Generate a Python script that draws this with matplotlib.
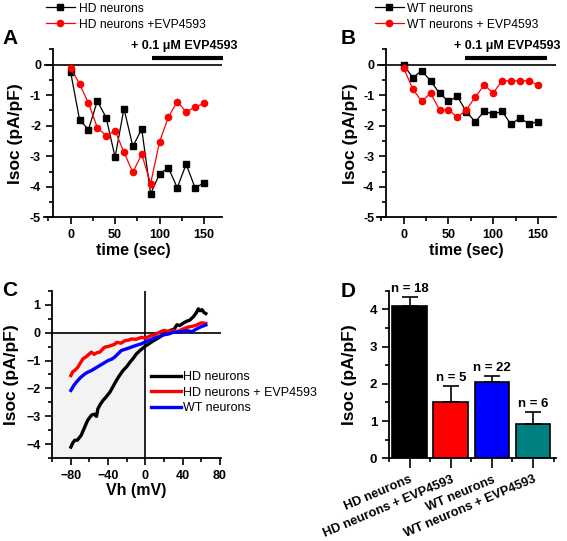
import numpy as np
import matplotlib
matplotlib.use("Agg")
import matplotlib.pyplot as plt
from matplotlib.ticker import MultipleLocator

plt.rcParams['font.family'] = ['Liberation Sans', 'DejaVu Sans']

# ---------------- data ----------------
time_s = [0, 10, 20, 30, 40, 50, 60, 70, 80, 90, 100, 110, 120, 130, 140, 150]

# Panel A
hd_ctrl = [-0.25, -1.80, -2.13, -1.19, -1.74, -3.03, -1.44, -2.68, -2.11, -4.23,
           -3.58, -3.38, -4.03, -3.26, -4.03, -3.88]
hd_evp = [-0.11, -0.63, -1.26, -2.06, -2.33, -2.17, -2.87, -3.53, -2.93, -3.90,
          -2.53, -1.72, -1.21, -1.55, -1.39, -1.27]

# Panel B
wt_ctrl = [-0.01, -0.43, -0.20, -0.53, -0.94, -1.20, -1.04, -1.55, -1.87, -1.53,
           -1.62, -1.53, -1.96, -1.74, -1.94, -1.87]
wt_evp = [-0.12, -0.80, -1.20, -0.94, -1.48, -1.48, -1.73, -1.48, -1.06, -0.67,
          -0.93, -0.53, -0.53, -0.53, -0.53, -0.67]

# Panel C (I-V traces)
vh_hd = [-80, -78, -76, -73, -69, -66, -62, -58, -55, -52.5, -51, -48, -45.5, -42, -38,
         -35, -31, -28, -24, -20, -16.5, -13, -9.5, -5, -0.5, 3, 7, 11, 15, 19, 23,
         27, 31, 34, 37, 40, 44, 48, 52, 55, 57, 59, 61, 63, 65]
iv_hd = [-4.10, -3.95, -3.86, -3.85, -3.68, -3.45, -3.14, -2.96, -2.92, -3.00, -2.73,
         -2.55, -2.43, -2.30, -2.13, -1.95, -1.71, -1.55, -1.36, -1.22, -1.06, -0.92,
         -0.76, -0.62, -0.50, -0.42, -0.33, -0.25, -0.17, -0.08, 0.00, 0.08, 0.12,
         0.28, 0.25, 0.32, 0.40, 0.45, 0.58, 0.72, 0.85, 0.78, 0.82, 0.72, 0.68]
vh_hdevp = [-80, -78, -76, -72.5, -70, -67, -63, -58, -55, -52, -49, -46, -43.7, -40,
            -36.5, -33, -31, -26, -22, -18, -15, -10, -4, 0, 5, 10, 15, 20, 25, 30,
            35, 40, 45, 50, 55, 60, 65]
iv_hdevp = [-1.54, -1.40, -1.36, -1.24, -1.10, -0.94, -0.85, -0.70, -0.78, -0.72,
            -0.70, -0.60, -0.52, -0.50, -0.46, -0.42, -0.35, -0.38, -0.29, -0.27,
            -0.23, -0.24, -0.17, -0.20, -0.12, -0.08, 0.01, 0.08, 0.04, 0.07, 0.04,
            0.12, 0.19, 0.22, 0.27, 0.35, 0.33]
vh_wt = [-80, -77, -74, -70, -65, -62, -58, -54, -49, -45, -40, -36, -33, -29, -25.7,
         -20, -15, -10, -4, 0, 5, 10, 15, 20, 25, 30, 35, 40, 45, 50, 55, 60, 65]
iv_wt = [-2.07, -1.90, -1.77, -1.62, -1.48, -1.42, -1.36, -1.28, -1.18, -1.10,
         -1.00, -0.95, -0.88, -0.75, -0.64, -0.58, -0.52, -0.46, -0.40, -0.33,
         -0.26, -0.20, -0.14, -0.08, -0.05, 0.01, 0.02, 0.04, 0.07, 0.03, 0.13,
         0.21, 0.27]

# Panel D
groups = ["HD neurons", "HD neurons + EVP4593", "WT neurons", "WT neurons + EVP4593"]
means = [4.10, 1.50, 2.05, 0.92]
sems = [0.24, 0.45, 0.16, 0.33]
n_cells = [18, 5, 22, 6]
bar_colors = ["#000000", "#ff0000", "#0000ff", "#008080"]

# ---------------- figure ----------------
fig = plt.figure(figsize=(5.67, 5.41), dpi=100)

TICK_FS = 9
LAB_FS = 11.5


def style_axis(ax):
    for s in ["top", "right"]:
        ax.spines[s].set_visible(False)
    for s in ["left", "bottom"]:
        ax.spines[s].set_linewidth(1.3)
    ax.tick_params(which="major", direction="out", length=5, width=1.2,
                   labelsize=TICK_FS)
    ax.tick_params(which="minor", direction="out", length=3, width=1.2)
    for lbl in ax.get_xticklabels() + ax.get_yticklabels():
        lbl.set_fontweight("bold")


def time_panel(ax, ctrl, evp, lab_ctrl, lab_evp, bar_x, text_x, leg_x, ylpad):
    ax.axhline(0, color="black", lw=1.2, zorder=1)
    ax.plot(time_s, ctrl, "s-", color="black", lw=0.9, ms=4, label=lab_ctrl)
    ax.plot(time_s, evp, "o-", color="#ff0000", lw=0.9, ms=4.5, label=lab_evp)
    ax.set_xlim(-30, 170)
    ax.set_ylim(-5, 0.5)
    ax.spines["left"].set_position(("data", -20))
    ax.xaxis.set_major_locator(MultipleLocator(50))
    ax.xaxis.set_minor_locator(MultipleLocator(25))
    ax.yaxis.set_minor_locator(MultipleLocator(0.5))
    ax.set_yticks([-5, -4, -3, -2, -1, 0])
    ax.set_yticklabels(["-5", "-4", "-3", "-2", "-1", "0"])
    ax.set_xlabel("time (sec)", fontsize=LAB_FS, fontweight="bold", labelpad=1)
    ax.set_ylabel("Isoc (pA/pF)", fontsize=LAB_FS + 1, fontweight="bold",
                  labelpad=ylpad)
    ax.plot(bar_x, [0.23, 0.23], color="black", lw=3, clip_on=False,
            solid_capstyle="butt")
    ax.text(text_x, 0.62, "+ 0.1 \u03bcM EVP4593", fontsize=9, fontweight="bold",
            ha="center", va="center", clip_on=False)
    ax.legend(loc="upper left", bbox_to_anchor=(leg_x, 0.995),
              bbox_transform=fig.transFigure, frameon=False, fontsize=8.7,
              numpoints=1, handlelength=2.4, handletextpad=0.3,
              labelspacing=0.33, borderpad=0, borderaxespad=0)
    style_axis(ax)


# Panel A
axA = fig.add_axes([0.0776, 0.5983, 0.3134, 0.3105])
time_panel(axA, hd_ctrl, hd_evp, "HD neurons", "HD neurons +EVP4593",
           [92, 171], 127.5, 0.081, 5)

# Panel B
axB = fig.add_axes([0.6649, 0.5983, 0.3152, 0.3105])
time_panel(axB, wt_ctrl, wt_evp, "WT neurons", "WT neurons + EVP4593",
           [68, 160], 115.6, 0.661, 3.5)

# Panel C
axC = fig.add_axes([0.0922, 0.1529, 0.297, 0.3098])
axC.fill_between([-100, 0], -4.5, 0, color="#f3f3f3", zorder=0, lw=0)
axC.axhline(0, color="black", lw=1.2, zorder=1)
axC.axvline(0, color="black", lw=1.2, zorder=1)
axC.plot(vh_hd, iv_hd, color="black", lw=2.4, label="HD neurons")
axC.plot(vh_hdevp, iv_hdevp, color="#ff0000", lw=2.4, label="HD neurons + EVP4593")
axC.plot(vh_wt, iv_wt, color="#0000ff", lw=2.4, label="WT neurons")
axC.set_xlim(-100, 81)
axC.set_ylim(-4.5, 1.5)
axC.set_xticks([-80, -40, 0, 40, 80])
axC.xaxis.set_minor_locator(MultipleLocator(20))
axC.set_yticks([-4, -3, -2, -1, 0, 1])
axC.yaxis.set_minor_locator(MultipleLocator(0.5))
axC.set_xlabel("Vh (mV)", fontsize=LAB_FS, fontweight="bold", labelpad=1)
axC.set_ylabel("Isoc (pA/pF)", fontsize=LAB_FS + 1, fontweight="bold", labelpad=5)
axC.legend(loc="upper left", bbox_to_anchor=(0.266, 0.314),
           bbox_transform=fig.transFigure, frameon=False, fontsize=9,
           handlelength=2.4, handletextpad=0.2, labelspacing=0.28,
           borderpad=0, borderaxespad=0)
style_axis(axC)

# Panel D
axD = fig.add_axes([0.686, 0.1529, 0.294, 0.3098])
xpos = np.arange(len(groups))
axD.bar(xpos, means, width=0.84, color=bar_colors, edgecolor="black", lw=1.2,
        yerr=[np.zeros(len(sems)), sems],
        error_kw=dict(ecolor="black", elinewidth=1.2, capsize=6, capthick=1.2))
for xi, m, s, n in zip(xpos, means, sems, n_cells):
    axD.text(xi, m + s + 0.05, f"n = {n}", ha="center", va="bottom",
             fontsize=9.5, fontweight="bold")
axD.set_xlim(-0.5, 3.55)
axD.set_ylim(0, 4.5)
axD.set_xticks(xpos)
axD.set_xticks(list(xpos[:-1] + 0.5) + [-0.5, 3.5], minor=True)
axD.set_xticklabels(groups, rotation=23, ha="right", rotation_mode="anchor")
axD.set_yticks([0, 1, 2, 3, 4])
axD.yaxis.set_minor_locator(MultipleLocator(0.5))
axD.set_ylabel("Isoc (pA/pF)", fontsize=LAB_FS + 1, fontweight="bold", labelpad=9)
style_axis(axD)
axD.tick_params(axis="x", which="major", length=7, pad=4, labelsize=9.2)
axD.tick_params(axis="y", labelsize=9.5)

# Panel letters
for x, y, letter in [(0.004, 0.918, "A"), (0.601, 0.918, "B"),
                     (0.004, 0.453, "C"), (0.601, 0.451, "D")]:
    fig.text(x, y, letter, fontsize=15, fontweight="bold", va="baseline")

fig.savefig("out.png", dpi=100)
